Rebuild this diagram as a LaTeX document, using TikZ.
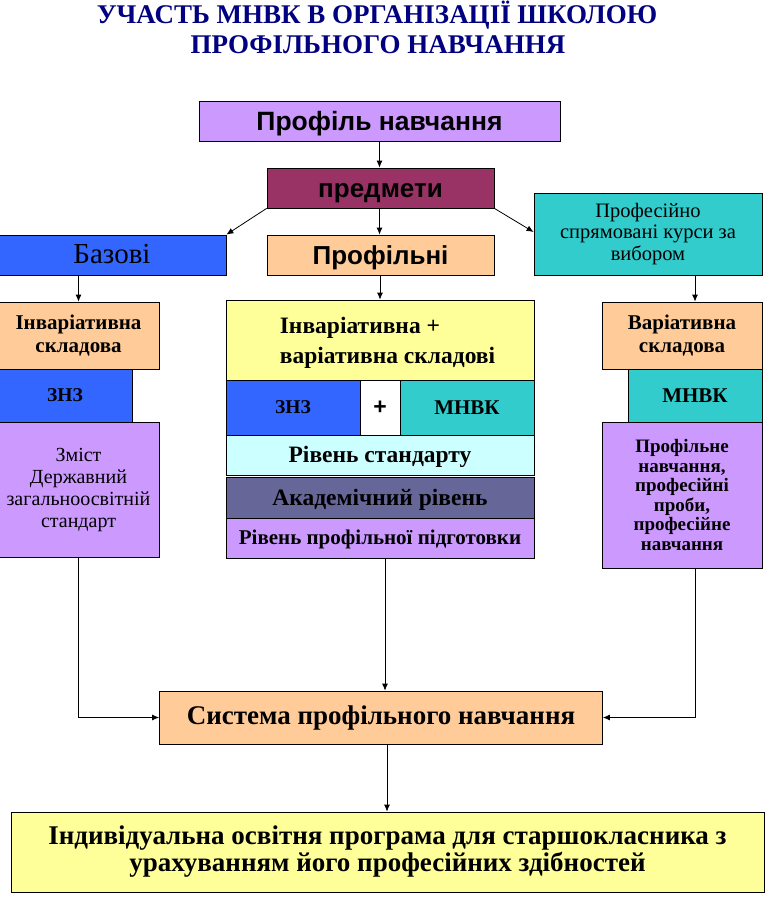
\documentclass[tikz,border=0pt]{standalone}
\usepackage{fontspec}
\setmainfont{Liberation Serif}
\newfontfamily\arialf{Liberation Sans}
\usetikzlibrary{arrows.meta,positioning}
\definecolor{lilac}{HTML}{CC99FF}
\definecolor{plum}{HTML}{993366}
\definecolor{royal}{HTML}{3366FF}
\definecolor{peach}{HTML}{FFCC99}
\definecolor{teal}{HTML}{33CCCC}
\definecolor{lemon}{HTML}{FFFF99}
\definecolor{icecyan}{HTML}{CCFFFF}
\definecolor{slate}{HTML}{666699}
\definecolor{navy}{HTML}{000080}

\begin{document}
\begin{tikzpicture}[x=1pt,y=-1pt,
    box/.style={draw=black,line width=0.8pt,inner sep=1pt,align=center},
    caps/.style={text height=#1,text depth=0pt},
    arr/.style={-{Latex[length=7pt,width=6pt]},line width=0.8pt}]
    \useasboundingbox (0,0) rectangle (765,897);
    % Title
    \node[anchor=base,text=navy,font=\bfseries\fontsize{27}{30}\selectfont]
        (title1) at (377,23) {УЧАСТЬ МНВК В ОРГАНІЗАЦІЇ ШКОЛОЮ};
    \node[anchor=base,text=navy,font=\bfseries\fontsize{27}{30}\selectfont]
        (title2) at (378,53) {ПРОФІЛЬНОГО НАВЧАННЯ};
    % Top boxes
    \node[box,caps=19.1pt,fill=lilac,minimum width=361,minimum height=40,
        font=\arialf\bfseries\fontsize{26.5}{28}\selectfont]
        (prof) at (379.5,121) {Профіль навчання};
    \node[box,caps=18.7pt,fill=plum,minimum width=227,minimum height=40,
        font=\arialf\bfseries\fontsize{26}{28}\selectfont]
        (subj) at (380.5,188) {предмети};
    \node[box,caps=17pt,fill=royal,minimum width=228,minimum height=40,
        font=\fontsize{29}{30}\selectfont]
        (base) at (112,255) {Базові};
    \node[box,caps=18.7pt,fill=peach,minimum width=227,minimum height=40,
        font=\arialf\bfseries\fontsize{26}{28}\selectfont]
        (spec) at (380.5,255) {Профільні};
    \node[box,fill=teal,minimum width=228,minimum height=82,
        font=\fontsize{20.5}{21.5}\selectfont]
        (courses) at (648,234) {Професійно\\спрямовані курси за\\вибором};
    % Left column
    \node[box,fill=peach,minimum width=161,minimum height=67,
        font=\bfseries\fontsize{21}{23}\selectfont]
        (invL) at (78.5,335.5) {Інваріативна\\складова};
    \node[box,caps=12.9pt,fill=royal,minimum width=134,minimum height=53,
        font=\bfseries\fontsize{19.5}{23}\selectfont]
        (znzL) at (65,395.5) {ЗНЗ};
    \node[box,fill=lilac,minimum width=161,minimum height=135,
        font=\fontsize{20}{22}\selectfont]
        (content) at (78.5,489.5) {Зміст\\Державний\\загальноосвітній\\стандарт};
    % Middle column
    \node[box,text depth=0pt,fill=lemon,minimum width=308,minimum height=80,align=left,
        font=\bfseries\fontsize{23.5}{30}\selectfont]
        (invvar) at (380,340) {\hspace*{15pt}Інваріативна +\\\hspace*{15pt}варіативна складові};
    \node[box,caps=12.9pt,fill=royal,minimum width=134,minimum height=55,
        font=\bfseries\fontsize{19.5}{23}\selectfont]
        (znzM) at (293,407.5) {ЗНЗ};
    \node[box,fill=white,minimum width=40,minimum height=55,
        font=\arialf\bfseries\fontsize{23}{24}\selectfont]
        (plus) at (380,407.5) {\raisebox{-5pt}{+}};
    \node[box,caps=13.9pt,fill=teal,minimum width=134,minimum height=55,
        font=\bfseries\fontsize{21}{23}\selectfont]
        (mnvkM) at (467,407.5) {МНВК};
    \node[box,caps=15.5pt,fill=icecyan,minimum width=308,minimum height=40,
        font=\bfseries\fontsize{23.5}{24}\selectfont]
        (std) at (380,455) {Рівень стандарту};
    \node[box,caps=15.5pt,fill=slate,minimum width=308,minimum height=41,
        font=\bfseries\fontsize{23.5}{24}\selectfont]
        (acad) at (380,497.5) {Академічний рівень};
    \node[box,caps=13.9pt,fill=lilac,minimum width=308,minimum height=40,
        font=\bfseries\fontsize{21}{22}\selectfont]
        (prep) at (380,538) {Рівень профільної підготовки};
    % Right column
    \node[box,fill=peach,minimum width=160,minimum height=67,
        font=\bfseries\fontsize{21}{23}\selectfont]
        (varR) at (682,335.5) {Варіативна\\складова};
    \node[box,caps=13.9pt,fill=teal,minimum width=134,minimum height=53,
        font=\bfseries\fontsize{21}{23}\selectfont]
        (mnvkR) at (695,395.5) {МНВК};
    \node[box,fill=lilac,minimum width=160,minimum height=146,
        font=\bfseries\fontsize{19}{19.6}\selectfont]
        (tasks) at (682,495) {Профільне\\навчання,\\професійні\\проби,\\професійне\\навчання};
    % Bottom boxes
    \node[box,fill=peach,minimum width=443,minimum height=53,
        font=\bfseries\fontsize{27}{28}\selectfont]
        (sys) at (381,717.5) {Система профільного навчання};
    \node[box,fill=lemon,minimum width=753,minimum height=80,
        font=\bfseries\fontsize{27}{27}\selectfont]
        (plan) at (387.5,852) {Індивідуальна освітня програма для старшокласника з\\урахуванням його професійних здібностей};
    % Connectors
    \draw[arr] (prof.south) -- (prof.south |- subj.north);
    \draw[arr] (subj.south west) -- (base.north east);
    \draw[arr] (subj.south -| prof.south) -- (prof.south |- spec.north);
    \draw[arr] (subj.south east) -- ([yshift=2pt]courses.west);
    \draw[arr] (invL.north |- base.south) -- (invL.north);
    \draw[arr] (spec.south -| invvar.north) -- (invvar.north);
    \draw[arr] (mnvkR.center |- courses.south) -- (mnvkR.center |- varR.north);
    \draw[arr] (content.south) |- (sys.west);
    \draw[arr] ([xshift=5pt]prep.south) -- ([xshift=5pt]prep.south |- sys.north);
    \draw[arr] (mnvkR.center |- tasks.south) |- (sys.east);
    \draw[arr] ([xshift=6pt]sys.south) -- ([xshift=6pt]sys.south |- plan.north);
\end{tikzpicture}
\end{document}
